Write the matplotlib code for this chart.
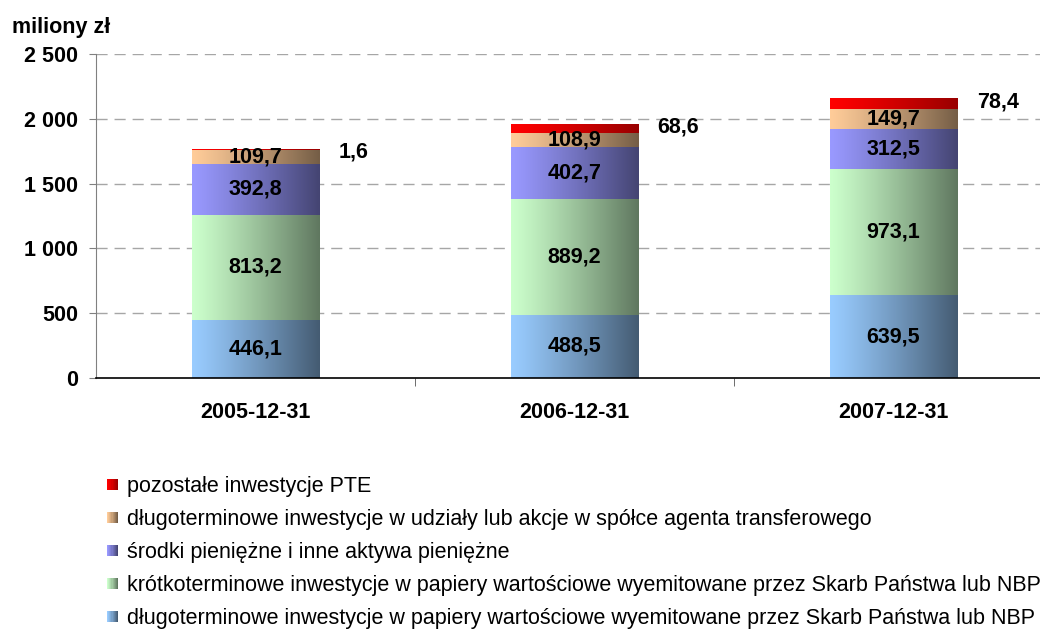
import numpy as np
import matplotlib
matplotlib.use("Agg")
import matplotlib.pyplot as plt
from matplotlib.legend_handler import HandlerBase
from matplotlib.patches import Rectangle
from matplotlib.ticker import FuncFormatter

plt.rcParams['font.family'] = ['Liberation Sans', 'DejaVu Sans']

dates = ["2005-12-31", "2006-12-31", "2007-12-31"]
dl_papiery = [446.1, 488.5, 639.5]
kr_papiery = [813.2, 889.2, 973.1]
srodki = [392.8, 402.7, 312.5]
udzialy = [109.7, 108.9, 149.7]
pozostale = [1.6, 68.6, 78.4]

names = [
    "długoterminowe inwestycje w papiery wartościowe wyemitowane przez Skarb Państwa lub NBP",
    "krótkoterminowe inwestycje w papiery wartościowe wyemitowane przez Skarb Państwa lub NBP",
    "środki pieniężne i inne aktywa pieniężne",
    "długoterminowe inwestycje w udziały lub akcje w spółce agenta transferowego",
    "pozostałe inwestycje PTE",
]
series = [dl_papiery, kr_papiery, srodki, udzialy, pozostale]
colors = ["#99ccff", "#ccffcc", "#9999ff", "#ffcc99", "#ff0000"]
dark_factor = [0.45, 0.47, 0.45, 0.46, 0.6]

FS = 15.5


def grad(c, k, n=64):
    c = np.array(matplotlib.colors.to_rgb(c))
    t = np.linspace(0, 1, n) ** 1.15
    cols = c[None, :] * (1 - t[:, None]) + c[None, :] * k * t[:, None]
    return cols[None, :, :]


class GradHandler(HandlerBase):
    def __init__(self, c, k):
        super().__init__()
        self.c = c
        self.k = k

    def create_artists(self, legend, orig_handle, xdescent, ydescent,
                       width, height, fontsize, trans):
        g = grad(self.c, self.k, 10)[0]
        side = width
        y0 = -ydescent + (height - side) / 2
        arts = []
        for j, col in enumerate(g):
            r = Rectangle((-xdescent + j * side / len(g), y0), side / len(g) * 1.05, side,
                          facecolor=col, edgecolor='none', transform=trans)
            arts.append(r)
        return arts


fig = plt.figure(figsize=(10.4, 6.35), dpi=100)
ax = fig.add_axes([96 / 1040, 1 - 378 / 635, 957 / 1040, 324 / 635])

x = np.arange(len(dates))
bottom = np.zeros(len(dates))
handles = []
for vals, c, k, nm in zip(series, colors, dark_factor, names):
    bars = ax.bar(x, vals, 0.4, bottom=bottom, color='none', edgecolor='none', label=nm, zorder=2)
    for p in bars:
        x0, y0, w, h = p.get_x(), p.get_y(), p.get_width(), p.get_height()
        ax.imshow(grad(c, k), extent=[x0, x0 + w, y0, y0 + h], aspect='auto',
                  interpolation='bilinear', zorder=2)
    handles.append(bars)
    bottom = bottom + np.array(vals)

# value labels
bottom = np.zeros(len(dates))
for si, vals in enumerate(series):
    for i, v in enumerate(vals):
        txt = f"{v:.1f}".replace(".", ",")
        if si < 4:
            ax.text(x[i], bottom[i] + v / 2, txt, ha='center', va='center',
                    fontsize=FS, fontweight='bold', zorder=3)
        else:
            ax.annotate(txt, (x[i] + 0.2, bottom[i] + v), xytext=(14, -2),
                        textcoords='offset points', ha='left', va='center',
                        fontsize=FS, fontweight='bold', zorder=3)
    bottom = bottom + np.array(vals)

ax.set_xlim(-0.5, 2.5)
ax.set_ylim(0, 2500)
ax.set_yticks(np.arange(0, 2501, 500))
ax.yaxis.set_major_formatter(FuncFormatter(lambda v, p: f"{int(v):,}".replace(",", " ")))
ax.set_xticks(x)
ax.set_xticklabels(dates)
ax.set_xticks([0.5, 1.5], minor=True)
ax.tick_params(axis='x', which='major', length=0, pad=17)
ax.tick_params(axis='x', which='minor', length=6, color='#555555', direction='out')
ax.tick_params(axis='y', length=5, color='#808080', direction='out', pad=8)
for lab in ax.get_xticklabels() + ax.get_yticklabels():
    lab.set_fontsize(FS)
    lab.set_fontweight('bold')

for yv in range(500, 2501, 500):
    ax.axhline(yv, color='#a6a6a6', lw=1, ls=(0, (8, 5)), zorder=0)

for s in ['top', 'right']:
    ax.spines[s].set_visible(False)
ax.spines['left'].set_color('#808080')
ax.spines['bottom'].set_color('black')
ax.spines['bottom'].set_linewidth(1.2)

fig.text(12 / 1040, 1 - 27 / 635, "miliony zł", fontsize=FS, fontweight='bold', va='center')

hmap = {h: GradHandler(c, k) for h, c, k in zip(handles, colors, dark_factor)}
fig.legend(handles[::-1], names[::-1], handler_map=hmap, loc='upper left',
           bbox_to_anchor=(107 / 1040, 1 - 476 / 635), frameon=False, fontsize=FS,
           handlelength=0.52, handleheight=0.7, handletextpad=0.4, labelspacing=0.56,
           borderpad=0, borderaxespad=0)

fig.savefig("out.png", dpi=100)
